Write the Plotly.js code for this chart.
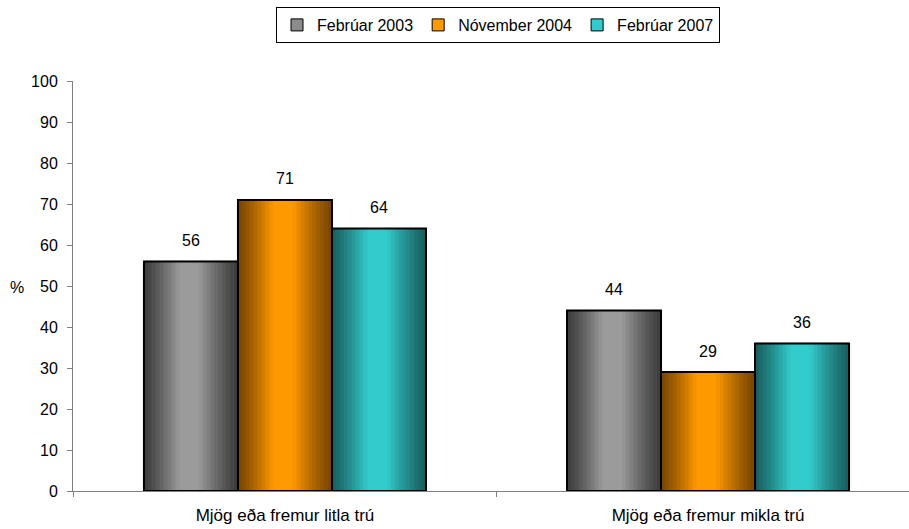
<!DOCTYPE html>
<html>
<head>
<meta charset="utf-8">
<script src="https://cdn.plot.ly/plotly-3.0.1.min.js"></script>
<style>html,body{margin:0;padding:0;background:#fff;}#chart{width:909px;height:529px;}</style>
</head>
<body>
<div id="chart"></div>
<script>
// ---- data ----
const categories = ['Mjög eða fremur litla trú', 'Mjög eða fremur mikla trú'];
const seriesNames = ['Febrúar 2003', 'Nóvember 2004', 'Febrúar 2007'];
const feb2003 = [56, 44];
const nov2004 = [71, 29];
const feb2007 = [64, 36];
const yTicks = [0, 10, 20, 30, 40, 50, 60, 70, 80, 90, 100];

// ---- styles ----
const seriesValues = [feb2003, nov2004, feb2007];
const gradients = [
  {dark: [60, 60, 60], light: [155, 155, 155], legend: '#8c8c8c'},
  {dark: [120, 70, 0], light: [255, 153, 0], legend: '#ff9900'},
  {dark: [24, 95, 95], light: [51, 204, 204], legend: '#33cccc'}
];
const FONT = 'Arial, "Liberation Sans", sans-serif';
const barW = 0.2222;
const groupStart = -1.5 * barW;
const N = 24;

function mix(a, b, t) {
  return 'rgb(' + a.map((v, i) => Math.round(v + (b[i] - v) * t)).join(',') + ')';
}
function profile(t) {
  if (t < 0.38) return t / 0.38;
  if (t < 0.58) return 1;
  return 1 - (t - 0.58) / 0.42;
}

const traces = [];
seriesValues.forEach((vals, s) => {
  traces.push({
    type: 'bar', x: categories, y: vals, name: seriesNames[s],
    offset: groupStart + s * barW, width: barW,
    marker: {color: gradients[s].legend, line: {color: '#000', width: 1}},
    showlegend: true, hoverinfo: 'skip'
  });
});
seriesValues.forEach((vals, s) => {
  for (let k = 0; k < N; k++) {
    const t = (k + 0.5) / N;
    traces.push({
      type: 'bar', x: categories, y: vals,
      offset: groupStart + s * barW + k * barW / N, width: barW / N + 0.002,
      marker: {color: mix(gradients[s].dark, gradients[s].light, Math.pow(profile(t), 1.2)), line: {width: 0}},
      showlegend: false, hoverinfo: 'skip'
    });
  }
});
seriesValues.forEach((vals, s) => {
  traces.push({
    type: 'bar', x: categories, y: vals,
    offset: groupStart + s * barW, width: barW,
    marker: {color: 'rgba(0,0,0,0)', line: {color: '#000', width: 2}},
    showlegend: false, hoverinfo: 'skip'
  });
});

const annotations = [];
seriesValues.forEach((vals, s) => {
  vals.forEach((v, i) => {
    annotations.push({
      x: i + groupStart + (s + 0.5) * barW, y: v, xref: 'x', yref: 'y',
      text: String(v), showarrow: false, yanchor: 'middle', yshift: 21,
      font: {family: FONT, size: 16, color: '#000'}
    });
  });
});
annotations.push({
  x: (17 - 73) / 836, y: (491 - 287) / 410, xref: 'paper', yref: 'paper',
  text: '%', showarrow: false, xanchor: 'center', yanchor: 'middle',
  font: {family: FONT, size: 16, color: '#000'}
});

const layout = {
  width: 909, height: 529,
  margin: {l: 73, r: 0, t: 81, b: 38},
  paper_bgcolor: '#fff', plot_bgcolor: '#fff',
  barmode: 'overlay',
  font: {family: FONT, size: 16, color: '#000'},
  xaxis: {
    type: 'category', range: [-0.501, 1.475], fixedrange: true,
    showline: true, linecolor: '#808080', linewidth: 1,
    ticks: 'outside', tickson: 'boundaries', ticklen: 5, tickcolor: '#808080',
    showgrid: false, zeroline: false,
    tickfont: {family: FONT, size: 17, color: '#000'}, ticklabelstandoff: 9
  },
  yaxis: {
    range: [0, 100], tickvals: yTicks, fixedrange: true,
    showline: true, linecolor: '#808080', linewidth: 1,
    ticks: 'outside', ticklen: 5, tickcolor: '#808080',
    showgrid: false, zeroline: false,
    tickfont: {family: FONT, size: 16, color: '#000'}, ticklabelstandoff: 6
  },
  showlegend: true,
  legend: {
    orientation: 'h', x: 498 / 909, xref: 'container', xanchor: 'center',
    y: 1 - 7 / 529, yref: 'container', yanchor: 'top',
    bordercolor: '#000', borderwidth: 1, bgcolor: '#fff',
    font: {family: FONT, size: 16, color: '#000'},
    itemwidth: 30, traceorder: 'normal'
  },
  annotations: annotations
};

Plotly.newPlot('chart', traces, layout, {displayModeBar: false, staticPlot: true});
</script>
</body>
</html>
